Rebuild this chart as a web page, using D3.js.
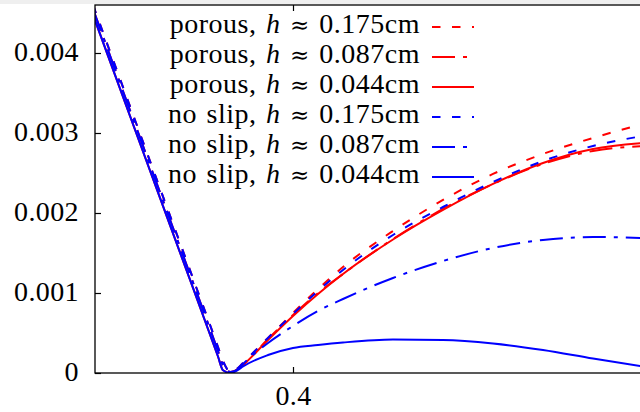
<!DOCTYPE html>
<html>
<head>
<meta charset="utf-8">
<script src="https://cdn.jsdelivr.net/npm/d3@7/dist/d3.min.js"></script>
<style>
  html, body { margin: 0; padding: 0; background: #fff; }
  svg { display: block; }
  text { font-family: "Liberation Serif", "DejaVu Serif", serif; fill: #000; }
</style>
</head>
<body>
<svg id="chart" width="640" height="412"></svg>
<script>
// ---------- data ----------
const xValues = [0.36, 0.37, 0.38, 0.385, 0.386, 0.3875, 0.389, 0.39, 0.395, 0.40, 0.405, 0.41, 0.42, 0.43, 0.44, 0.45, 0.46, 0.47];

const porous175 = [0.004600, 0.002888, 0.001181, 0.000325, 0.000150, 0.000013, 0.000063, 0.000125, 0.000438, 0.000750, 0.001050, 0.001325, 0.001775, 0.002163, 0.002488, 0.002738, 0.002938, 0.003113];
const porous087 = [0.004550, 0.002838, 0.001131, 0.000275, 0.000100, 0.000013, 0.000050, 0.000100, 0.000425, 0.000725, 0.001000, 0.001238, 0.001675, 0.002050, 0.002363, 0.002613, 0.002775, 0.002838];
const porous044 = [0.004478, 0.002769, 0.001063, 0.000206, 0.000034, 0.000000, 0.000050, 0.000100, 0.000413, 0.000713, 0.000988, 0.001238, 0.001669, 0.002038, 0.002363, 0.002625, 0.002800, 0.002875];
const noslip175 = [0.004600, 0.002888, 0.001181, 0.000325, 0.000150, 0.000013, 0.000063, 0.000125, 0.000438, 0.000738, 0.001025, 0.001288, 0.001725, 0.002075, 0.002388, 0.002650, 0.002838, 0.002963];
const noslip087 = [0.004550, 0.002838, 0.001131, 0.000275, 0.000100, 0.000013, 0.000050, 0.000113, 0.000375, 0.000588, 0.000775, 0.000925, 0.001188, 0.001400, 0.001563, 0.001663, 0.001700, 0.001688];
const noslip044 = [0.004478, 0.002769, 0.001063, 0.000206, 0.000034, 0.000000, 0.000038, 0.000081, 0.000225, 0.000313, 0.000350, 0.000381, 0.000419, 0.000413, 0.000369, 0.000288, 0.000181, 0.000081];

const seriesKinds = ["porous", "porous", "porous", "no slip", "no slip", "no slip"];
const seriesH = ["0.175", "0.087", "0.044", "0.175", "0.087", "0.044"];
const seriesValues = [porous175, porous087, porous044, noslip175, noslip087, noslip044];

const yTicks = [0, 0.001, 0.002, 0.003, 0.004];
const yTickLabels = ["0", "0.001", "0.002", "0.003", "0.004"];
const xTicks = [0.4];
const xTickLabels = ["0.4"];

// ---------- styles ----------
const colors = ["#ff0000", "#ff0000", "#ff0000", "#0000ff", "#0000ff", "#0000ff"];
const dashes = ["8.5,11.5", "23,8,4,8", null, "8.5,11.5", "23,8,4,8", null];

// ---------- layout ----------
const svg = d3.select("#chart");
const L = 95, R = 646, T = 5, B = 373;
const fontSize = 28;

const x = d3.scaleLinear().domain([0.3604, 0.4706]).range([L, R]);
const y = d3.scaleLinear().domain([0, 0.0046]).range([B, T]);

svg.append("rect").attr("x", 0).attr("y", 0).attr("width", 640).attr("height", 4).attr("fill", "#efefef");

svg.append("clipPath").attr("id", "clip")
  .append("rect").attr("x", L).attr("y", T).attr("width", R - L).attr("height", B - T);

// curves
const line = d3.line()
  .x(d => x(d[0]))
  .y(d => y(d[1]))
  .curve(d3.curveMonotoneX);

const plot = svg.append("g").attr("clip-path", "url(#clip)");
seriesValues.forEach((vals, i) => {
  const pts = xValues.map((xv, j) => [xv, vals[j]]);
  plot.append("path")
    .datum(pts)
    .attr("d", line)
    .attr("fill", "none")
    .attr("stroke", colors[i])
    .attr("stroke-width", 2)
    .attr("stroke-dasharray", dashes[i]);
});

// axes (inward ticks)
const yAxis = d3.axisLeft(y).tickValues(yTicks).tickFormat((d, i) => yTickLabels[i]).tickSize(-6).tickPadding(16);
const gy = svg.append("g").attr("transform", `translate(${L},0)`).call(yAxis);
gy.select(".domain").remove();
gy.selectAll("line").attr("stroke", "#000").attr("stroke-width", 1.2);
gy.selectAll("text").attr("dy", null).attr("y", 7)
  .style("font-size", fontSize + "px").style("letter-spacing", "0.4px")
  .style("font-family", '"Liberation Serif", serif').attr("fill", "#000");

const yAxisR = d3.axisRight(y).tickValues(yTicks).tickFormat("").tickSize(-6);
const gyr = svg.append("g").attr("transform", `translate(${R},0)`).call(yAxisR);
gyr.select(".domain").remove();
gyr.selectAll("line").attr("stroke", "#000").attr("stroke-width", 1.2);

const xAxis = d3.axisBottom(x).tickValues(xTicks).tickFormat((d, i) => xTickLabels[i]).tickSize(-6).tickPadding(14);
const gx = svg.append("g").attr("transform", `translate(0,${B})`).call(xAxis);
gx.select(".domain").remove();
gx.selectAll("line").attr("stroke", "#000").attr("stroke-width", 1.2);
gx.selectAll("text").attr("dy", null).attr("y", 32)
  .style("font-size", fontSize + "px").style("letter-spacing", "0.4px")
  .style("font-family", '"Liberation Serif", serif').attr("fill", "#000");

const xAxisT = d3.axisTop(x).tickValues(xTicks).tickFormat("").tickSize(-6);
const gxt = svg.append("g").attr("transform", `translate(0,${T})`).call(xAxisT);
gxt.select(".domain").remove();
gxt.selectAll("line").attr("stroke", "#000").attr("stroke-width", 1.2);

// frame
svg.append("rect").attr("x", L).attr("y", T).attr("width", R - L).attr("height", B - T)
  .attr("fill", "none").attr("stroke", "#000").attr("stroke-width", 1.3);

// legend
const legend = svg.append("g");
seriesKinds.forEach((k, i) => {
  const base = 33 + i * 30;
  const t = legend.append("text")
    .attr("x", 420).attr("y", base)
    .attr("text-anchor", "end")
    .style("font-size", fontSize + "px")
    .style("letter-spacing", "0.5px")
    .style("word-spacing", "2px");
  t.append("tspan").text(k + ", ");
  t.append("tspan").style("font-style", "italic").text("h");
  t.append("tspan").text(" ");
  t.append("tspan").style("font-family", '"DejaVu Serif", serif').style("font-size", "23px").text("\u2248");
  t.append("tspan").text(" " + seriesH[i] + "cm");
  legend.append("line")
    .attr("x1", 432).attr("x2", 474)
    .attr("y1", base - 6).attr("y2", base - 6)
    .attr("stroke", colors[i])
    .attr("stroke-width", 2)
    .attr("stroke-dasharray", dashes[i]);
});
</script>
</body>
</html>
